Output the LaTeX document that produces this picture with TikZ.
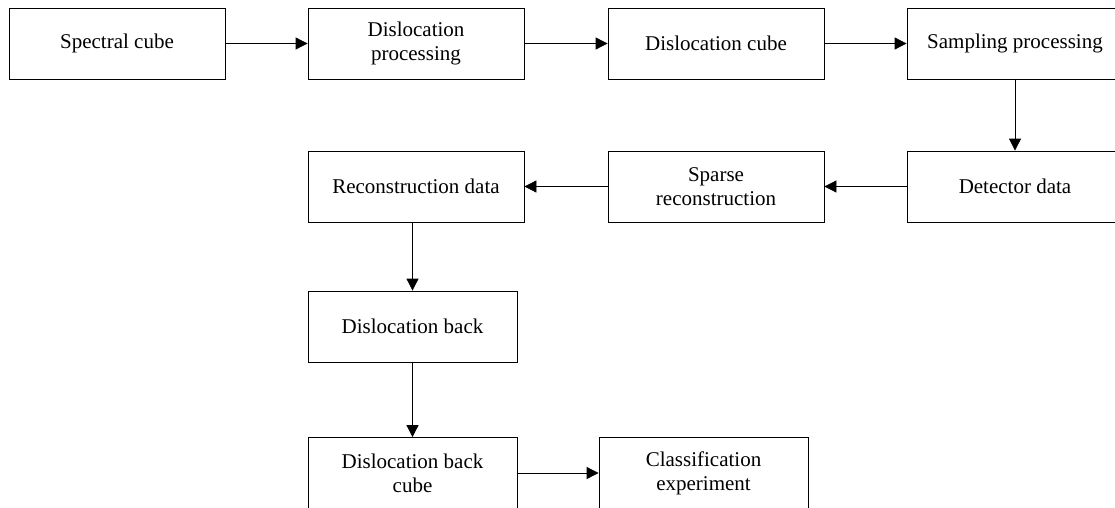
\documentclass[tikz,border=0pt]{standalone}
\usepackage{fontspec}
\setmainfont{Liberation Serif}
\usetikzlibrary{arrows.meta}

\tikzset{
  stage/.style={draw, line width=0.8pt, minimum width=216pt, minimum height=71pt,
    align=center, inner sep=2pt, font=\fontsize{21}{24}\selectfont},
  narrowstage/.style={stage, minimum width=209pt},
  flow/.style={-{Triangle[length=12pt,width=12pt]}, line width=0.8pt}
}

\begin{document}
\begin{tikzpicture}[x=1pt,y=-1pt]
    \useasboundingbox (0,0) rectangle (1115,508);

    % first row
    \node[stage] (spec) at (117,43.5) {Spectral cube};
    \node[stage] (dproc) at (416,43.5) {Dislocation\\processing};
    \node[stage] (dcube) at (716,43.5) {Dislocation cube};
    \node[stage] (samp) at (1015,43.5) {Sampling processing};

    % second row (right to left)
    \node[stage] (det) at (1015,186.5) {Detector data};
    \node[stage] (sparse) at (716,186.5) {Sparse\\reconstruction};
    \node[stage] (recon) at (416,186.5) {Reconstruction data};

    % going down
    \node[narrowstage] (dback) at (412.5,326.5) {Dislocation back};
    \node[narrowstage] (dbcube) at (412.5,473) {Dislocation back\\cube};
    \node[narrowstage] (classif) at (703.5,473) {Classification\\experiment};

    % connectors
    \draw[flow] (spec) -- (dproc);
    \draw[flow] (dproc) -- (dcube);
    \draw[flow] (dcube) -- (samp);
    \draw[flow] (samp) -- (det);
    \draw[flow] (det) -- (sparse);
    \draw[flow] (sparse) -- (recon);
    \draw[flow] (recon.south -| dback) -- (dback);
    \draw[flow] (dback) -- (dbcube);
    \draw[flow] (dbcube) -- (classif);
\end{tikzpicture}
\end{document}
